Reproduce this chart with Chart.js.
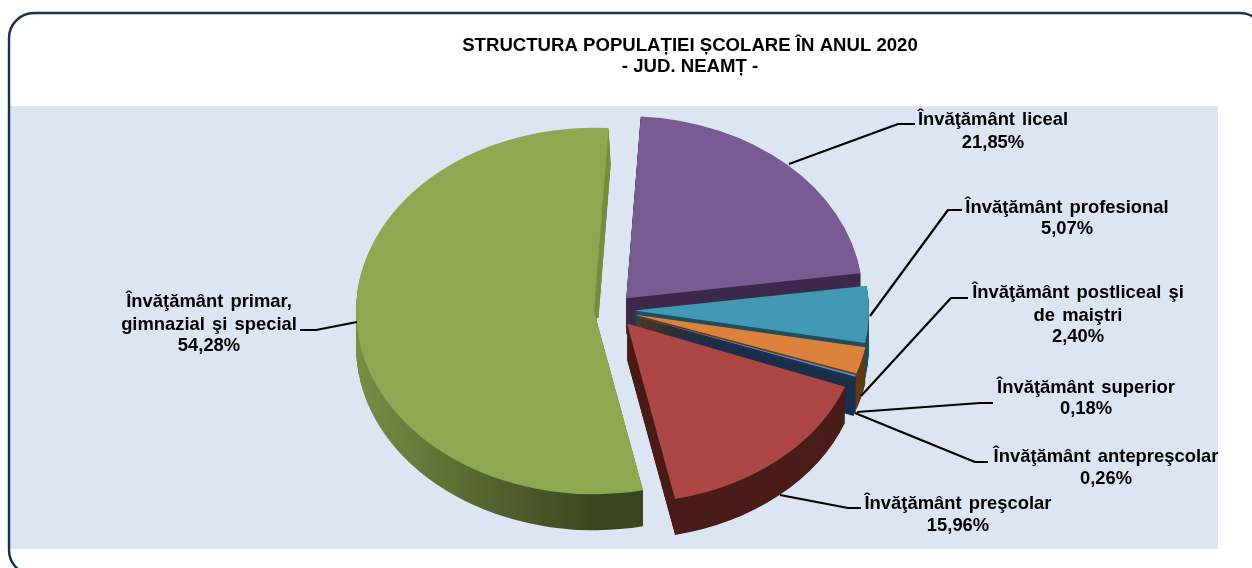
<!DOCTYPE html>
<html><head><meta charset="utf-8">
<style>html,body{margin:0;padding:0;background:#fff}#w{width:1252px;height:568px}canvas{display:block}</style>
<script src="https://cdn.jsdelivr.net/npm/chart.js@4"></script></head>
<body><div id="w"><canvas id="c"></canvas></div>
<script>
const categories = ['Învăţământ liceal','Învăţământ profesional','Învăţământ postliceal şi\nde maiştri','Învăţământ superior','Învăţământ antepreşcolar','Învăţământ preşcolar','Învăţământ primar,\ngimnazial şi special'];
const values = [21.85,5.07,2.40,0.18,0.26,15.96,54.28];
const topColors = ['#775b92','#4199b3','#dc823c','#5f8ac4','#1b3350','#ac4745','#8ca851'];
const sideColors = ['#3c2a4c','#1f4f60','#5f3c17','#1b2f4a','#1b2f4a','#4a1c1a',null];
const explode = [21,22,23,23,23,23,18];
const radiusTrim = [1.5,3,3,3,3,5,0];
const titleLines = ['STRUCTURA POPULAȚIEI ȘCOLARE ÎN ANUL 2020','- JUD. NEAMȚ -'];

const PIE = {cx:612, cy:310, r:238, squash:0.77, depth:36, rot:3.5};
const LABELS = [
 {x:993,y:[120,143],line:[[789,164],[898,124],[915,124]]},
 {x:1067,y:[208,229],line:[[870,316],[948,210],[962,210]]},
 {x:1078,y:[293,316,337],line:[[861,396],[951,298],[968,298]]},
 {x:1086,y:[388,409],line:[[857,412],[980,403],[993,403]]},
 {x:1106,y:[457,479],line:[[855,413],[975,462],[988,462]]},
 {x:958,y:[504,526],line:[[780,495],[848,508],[861,508]]},
 {x:209,y:[302,325,346],line:[[357,322],[316,330],[300,330]]}
];
const FONT='"Liberation Sans",Arial,sans-serif';

const backdrop={id:'backdrop',beforeDraw(ch){const c=ch.ctx;c.save();
 c.fillStyle='#fff';c.fillRect(0,0,1252,568);
 c.fillStyle='#dce6f2';c.fillRect(9,106,1209,443);
 c.strokeStyle='#17304f';c.lineWidth=2.4;c.beginPath();c.roundRect(9,13,1256,562,25);c.stroke();
 c.restore();}};

let base=null;
function place(c){c.translate(PIE.cx,PIE.cy);c.scale(1,PIE.squash);c.translate(-base.x,-base.y);}

const pie3d={id:'pie3d',
 afterDatasetsUpdate(ch){const meta=ch.getDatasetMeta(0);
  base={x:meta.data[0].x,y:meta.data[0].y};
  meta.data.forEach((a,i)=>{const mid=(a.startAngle+a.endAngle)/2;
   a.x=base.x+Math.cos(mid)*explode[i];a.y=base.y+Math.sin(mid)*explode[i];
   a.outerRadius=PIE.r-radiusTrim[i];});},
 beforeDatasetsDraw(ch){const c=ch.ctx,meta=ch.getDatasetMeta(0);
  meta.data.forEach((a,i)=>{
   const saved=a.options;
   const paint=(col,xs)=>{a.options=Object.assign({},saved,{backgroundColor:col,borderWidth:0});
     for(let d=PIE.depth;d>=1;d--){c.save();c.translate(d*xs,d);place(c);a.draw(c);c.restore();}};
   if(sideColors[i]){paint(sideColors[i],0);}
   else{
    const g=c.createLinearGradient(356-PIE.cx+base.x,0,640-PIE.cx+base.x,0);
    g.addColorStop(0,'#778e46');g.addColorStop(0.45,'#55662f');g.addColorStop(0.85,'#3a451d');g.addColorStop(1,'#3a451d');
    c.save();c.beginPath();c.rect(0,318,1252,250);c.rect(0,0,540,318);c.clip();paint(g,0);c.restore();
    c.save();c.beginPath();c.rect(560,100,80,218);c.clip();paint('#75903f',0.06);c.restore();
   }
   a.options=saved;
  });
  c.save();place(c);},
 afterDatasetsDraw(ch){ch.ctx.restore();},
 afterDraw(ch){const c=ch.ctx;c.save();c.strokeStyle='#000';c.lineWidth=2.2;c.lineJoin='round';
  c.fillStyle='#000';c.textAlign='center';c.textBaseline='middle';c.font='bold 18.4px '+FONT;c.wordSpacing='2px';
  categories.forEach((n,i)=>{const L=LABELS[i];
   c.beginPath();L.line.forEach((p,j)=>j?c.lineTo(p[0],p[1]):c.moveTo(p[0],p[1]));c.stroke();
   const lines=n.split('\n').concat(values[i].toFixed(2).replace('.',',')+'%');
   lines.forEach((t,j)=>c.fillText(t,L.x,L.y[j]));
  });c.restore();}
};

new Chart(document.getElementById('c'),{type:'pie',
 data:{labels:categories,datasets:[{data:values,backgroundColor:topColors,borderWidth:0,clip:false}]},
 plugins:[backdrop,pie3d],
 options:{responsive:true,maintainAspectRatio:false,animation:false,events:[],
  rotation:PIE.rot,radius:PIE.r,
  layout:{padding:{left:128,right:0,top:0,bottom:0}},
  plugins:{legend:{display:false},tooltip:{enabled:false},
   title:{display:true,text:titleLines,color:'#000',align:'center',font:{family:FONT,size:18.6,weight:'bold',lineHeight:1.14},padding:{top:35.5,bottom:0}}}}
});
</script></body></html>
